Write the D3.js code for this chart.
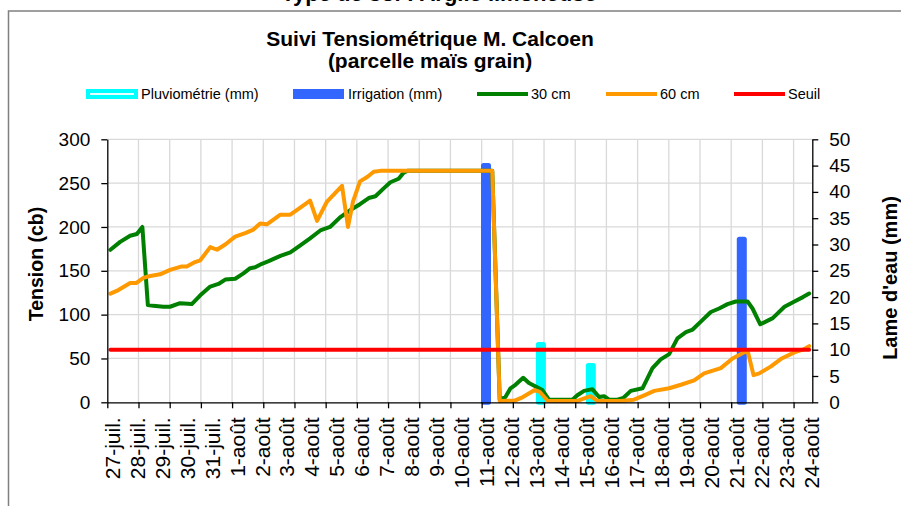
<!DOCTYPE html>
<html>
<head>
<meta charset="utf-8">
<script src="https://cdnjs.cloudflare.com/ajax/libs/d3/7.8.5/d3.min.js"></script>
<style>
  body { margin: 0; background: #fff; }
  svg { display: block; font-family: "Liberation Sans", Arial, sans-serif; }
</style>
</head>
<body>
<script>
// Suivi tensiometrique - parcelle mais grain

// dates du suivi (jour 0 = 27 juillet)
var dates = ["27-juil.", "28-juil.", "29-juil.", "30-juil.", "31-juil.",
    "1-août", "2-août", "3-août", "4-août", "5-août", "6-août", "7-août", "8-août",
    "9-août", "10-août", "11-août", "12-août", "13-août", "14-août", "15-août",
    "16-août", "17-août", "18-août", "19-août", "20-août", "21-août", "22-août",
    "23-août", "24-août"];

// sonde 30 cm : jour, tension (cb)
var jours30 = [0, 0.39, 0.79, 1.06, 1.28, 1.5, 1.72, 2.12, 2.39, 2.79, 3.26, 3.6, 4.0, 4.33,
    4.6, 5.0, 5.33, 5.6, 5.8, 6.07, 6.34, 6.81, 7.21, 7.61, 8.0, 8.41, 8.8, 9.2, 9.6, 10.0,
    10.35, 10.62, 10.95, 11.22, 11.55, 11.75, 11.9, 15.3, 15.6, 15.83, 16.03, 16.23, 16.54,
    16.77, 17.04, 17.31, 17.57, 18.51, 18.71, 18.98, 19.31, 19.58, 19.78, 19.98, 20.32,
    20.55, 20.85, 21.32, 21.72, 22.05, 22.39, 22.72, 23.06, 23.33, 23.73, 24.06, 24.39,
    24.73, 25.06, 25.53, 25.73, 26.04, 26.54, 27.01, 27.41, 27.75, 28];
var tension30 = [174, 183, 190, 192, 200, 111, 110, 109, 109, 113, 112, 122, 132, 135,
    140, 141, 147, 153, 154, 158, 161, 167, 171, 179, 187, 196, 200, 211, 219, 226,
    233, 235, 244, 251, 255, 262, 264, 264, 3, 6, 16, 20, 28,
    22, 18, 14, 3, 3, 8, 13, 15, 6, 7, 3, 3,
    5, 13, 16, 39, 49, 55, 73, 80, 83, 94, 103, 107,
    112, 115, 115, 107, 89, 96, 109, 115, 120, 124];

// sonde 60 cm : jour, tension (cb)
var jours60 = [0, 0.32, 0.79, 1.03, 1.32, 1.59, 1.99, 2.39, 2.86, 3.06, 3.39, 3.6, 4.0, 4.27,
    4.6, 5.0, 5.4, 5.73, 6.0, 6.27, 6.81, 7.21, 7.61, 8.0, 8.28, 8.68, 9.28, 9.52, 9.72,
    10.0, 10.29, 10.55, 10.82, 15.3, 15.6, 16.2, 16.53, 17.0, 17.2, 17.53, 18.71, 19.24,
    19.51, 20.45, 20.98, 21.39, 21.79, 22.39, 22.86, 23.39, 23.79, 24.46, 24.93, 25.27,
    25.53, 25.77, 26.0, 26.47, 26.9, 27.41, 27.75, 28];
var tension60 = [124, 128, 136, 136, 142, 144, 146, 151, 155, 155, 160, 162, 177, 174,
    180, 189, 193, 197, 204, 203, 214, 214, 222, 230, 207, 229, 247, 200, 229,
    252, 257, 263, 264, 264, 1.5, 2, 6, 14, 12, 1.5, 1.5, 7,
    1.5, 1.5, 3, 8, 13, 16, 20, 25, 33, 39, 50, 55,
    59, 31, 33, 41, 50, 57, 60, 64];

// seuil de declenchement (cb)
var seuil = 60;

// apports d'eau (mm)
var joursPluie = [17.25, 19.25];
var pluie = [11, 7];
var joursIrrig = [15.05, 25.3];
var irrigation = [45, 31];

var margin = { top: 139.3, left: 107.3, right: 88.7, bottom: 103.7 };
var W = 901, H = 506;
var width = W - margin.left - margin.right;
var height = H - margin.top - margin.bottom;

var svg = d3.select("body").append("svg")
    .attr("width", W)
    .attr("height", H);

// cadre du graphique
svg.append("path")
    .attr("d", "M8.5," + H + "V11H" + W)
    .attr("fill", "none")
    .attr("stroke", "#808080")
    .attr("stroke-width", 1.5);

// titre du dessus (coupe)
svg.append("text")
    .attr("x", 439).attr("y", 1)
    .attr("text-anchor", "middle")
    .attr("font-size", 22).attr("font-weight", "bold")
    .text("Type de sol : Argile limoneuse");

svg.append("text")
    .attr("x", 430).attr("y", 46)
    .attr("text-anchor", "middle")
    .attr("font-size", 21).attr("font-weight", "bold")
    .text("Suivi Tensiométrique M. Calcoen");
svg.append("text")
    .attr("x", 430).attr("y", 68)
    .attr("text-anchor", "middle")
    .attr("font-size", 21).attr("font-weight", "bold")
    .text("(parcelle maïs grain)");

var g = svg.append("g")
    .attr("transform", "translate(" + margin.left + "," + margin.top + ")");

var x = d3.scaleLinear().domain([-0.125, 28.125]).range([0, width]);
var yL = d3.scaleLinear().domain([0, 300]).range([height, 0]);
var yR = d3.scaleLinear().domain([0, 50]).range([height, 0]);

var xTicks = d3.range(0, 23).map(function(k) { return -0.125 + 1.25 * k; });

// grille
g.append("g").selectAll("line.h")
    .data(d3.range(50, 301, 50))
    .enter().append("line")
    .attr("x1", 0).attr("x2", width)
    .attr("y1", function(d) { return yL(d); })
    .attr("y2", function(d) { return yL(d); })
    .attr("stroke", "#d9d9d9").attr("stroke-width", 1.3);
g.append("g").selectAll("line.v")
    .data(xTicks.slice(1))
    .enter().append("line")
    .attr("x1", function(d) { return x(d); })
    .attr("x2", function(d) { return x(d); })
    .attr("y1", 0).attr("y2", height)
    .attr("stroke", "#d9d9d9").attr("stroke-width", 1.3);

// barres pluie / irrigation
function barres(jours, vals, color, fill) {
    g.append("g").selectAll("rect")
        .data(vals)
        .enter().append("rect")
        .attr("x", function(d, i) { return x(jours[i]) - 2.5; })
        .attr("width", 5)
        .attr("y", function(d) { return yR(d); })
        .attr("height", function(d) { return yR(0) - yR(d); })
        .attr("fill", fill)
        .attr("stroke", color)
        .attr("stroke-width", 5)
        .attr("stroke-linejoin", "round");
}
barres(joursPluie, pluie, "#00ffff", "#ccffff");
barres(joursIrrig, irrigation, "#3366ff", "#3366ff");

// courbes
var line = d3.line()
    .x(function(d) { return x(d[0]); })
    .y(function(d) { return yL(d[1]); });

function courbe(jours, vals, color) {
    g.append("path")
        .datum(vals.map(function(v, i) { return [jours[i], v]; }))
        .attr("d", line)
        .attr("fill", "none")
        .attr("stroke", color)
        .attr("stroke-width", 4)
        .attr("stroke-linejoin", "round")
        .attr("stroke-linecap", "round");
}
courbe(jours30, tension30, "#008000");
courbe(jours60, tension60, "#ff9900");
courbe([0, dates.length - 1], [seuil, seuil], "#ff0000");

// axes
var axL = g.append("g")
    .call(d3.axisLeft(yL).tickValues(d3.range(0, 301, 50)).tickSize(6).tickSizeOuter(0).tickPadding(11));
var axR = g.append("g")
    .attr("transform", "translate(" + width + ",0)")
    .call(d3.axisRight(yR).tickValues(d3.range(0, 51, 5)).tickSize(6).tickSizeOuter(0).tickPadding(11));
var axB = g.append("g")
    .attr("transform", "translate(0," + height + ")")
    .call(d3.axisBottom(x).tickValues(xTicks).tickSize(6).tickSizeOuter(0).tickFormat(""));

[axL, axR, axB].forEach(function(a) {
    a.selectAll("path, line").attr("stroke", "#000").attr("stroke-width", 1.3);
    a.selectAll("text").attr("font-size", 19).attr("fill", "#000")
        .attr("font-family", "'Liberation Sans', Arial, sans-serif");
});

// etiquettes de dates
g.append("g").selectAll("text")
    .data(dates)
    .enter().append("text")
    .attr("transform", function(d, i) {
        return "translate(" + (x(i) + 2) + "," + (height + 15) + ") rotate(-90)";
    })
    .attr("text-anchor", "end")
    .attr("dy", "0.35em")
    .attr("font-size", 21)
    .text(function(d) { return d; });

// titres des axes
svg.append("text")
    .attr("transform", "translate(36,264) rotate(-90)")
    .attr("text-anchor", "middle")
    .attr("dy", "0.35em")
    .attr("font-size", 19.5).attr("font-weight", "bold")
    .text("Tension (cb)");
svg.append("text")
    .attr("transform", "translate(890,278) rotate(-90)")
    .attr("text-anchor", "middle")
    .attr("dy", "0.35em")
    .attr("font-size", 20).attr("font-weight", "bold")
    .text("Lame d'eau (mm)");

// legende
var leg = svg.append("g").attr("font-size", 14.5);
leg.append("rect").attr("x", 88).attr("y", 91).attr("width", 48).attr("height", 6)
    .attr("fill", "#e6ffff").attr("stroke", "#00ffff").attr("stroke-width", 4);
leg.append("text").attr("x", 141).attr("y", 99).text("Pluviométrie (mm)");
leg.append("rect").attr("x", 293).attr("y", 89).attr("width", 51).attr("height", 10)
    .attr("fill", "#3366ff");
leg.append("text").attr("x", 348).attr("y", 99).text("Irrigation (mm)");

var legLignes = [
    { x: 477, color: "#008000", label: "30 cm" },
    { x: 606, color: "#ff9900", label: "60 cm" },
    { x: 734, color: "#ff0000", label: "Seuil" }
];
legLignes.forEach(function(l) {
    leg.append("line")
        .attr("x1", l.x).attr("x2", l.x + 51)
        .attr("y1", 94).attr("y2", 94)
        .attr("stroke", l.color).attr("stroke-width", 4);
    leg.append("text").attr("x", l.x + 54).attr("y", 99).text(l.label);
});
</script>
</body>
</html>
